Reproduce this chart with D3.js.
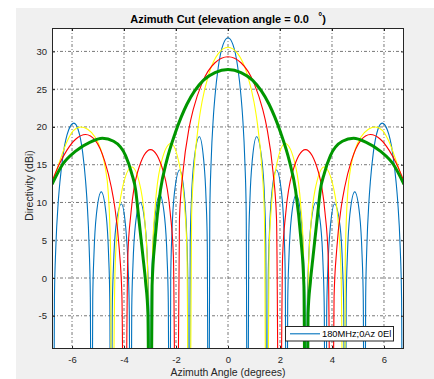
<!DOCTYPE html>
<html><head><meta charset="utf-8">
<script src="https://cdn.jsdelivr.net/npm/d3@7"></script>
<style>
body{margin:0;background:#fff}
svg{display:block}
text{font-family:"Liberation Sans",Arial,Helvetica,sans-serif}
</style>
</head><body>
<svg id="c" width="434" height="379"></svg>
<script>
// ---- data (azimuth deg, directivity dBi); -40 marks a null below the axis ----
const xTicks = [-6, -4, -2, 0, 2, 4, 6];
const yTicks = [-5, 0, 5, 10, 15, 20, 25, 30];
const xDomain = [-6.77, 6.77];
const yDomain = [-9.4, 33.1];
const legendLabel = "180MHz;0Az 0El";

const blue = [
[-6.8,-8],[-6.73,-40],[-6.676,-2.5],[-6.624,4.0],[-6.53,10.05],[-6.463,12.8],[-6.33,16.6],[-6.13,19.6],[-5.93,20.5],[-5.76,19.6],[-5.59,16.6],[-5.477,12.8],[-5.42,10.05],[-5.34,4.0],[-5.296,-2.5],[-5.25,-40],
[-5.203,-2.8],[-5.156,3.1],[-5.0625,8.4],[-4.875,11.4],[-4.6875,8.4],[-4.594,3.1],[-4.547,-2.8],[-4.5,-40],
[-4.453,-4.4],[-4.406,1.5],[-4.3125,6.8],[-4.1,9.8],[-3.9375,6.8],[-3.844,1.5],[-3.797,-4.4],[-3.75,-40],
[-3.703,-4.2],[-3.656,1.7],[-3.5625,7.0],[-3.375,10.0],[-3.1875,7.0],[-3.094,1.7],[-3.047,-4.2],[-3.0,-40],
[-2.953,-3.2],[-2.906,2.7],[-2.8125,8.0],[-2.625,11.0],[-2.4375,8.0],[-2.344,2.7],[-2.297,-3.2],[-2.25,-40],
[-2.203,0.1],[-2.156,6.0],[-2.06,11.3],[-1.86,14.3],[-1.6875,11.3],[-1.594,6.0],[-1.547,0.1],[-1.5,-40],
[-1.453,4.5],[-1.406,10.4],[-1.3,15.7],[-1.1,18.7],[-0.9375,15.7],[-0.844,10.4],[-0.797,4.5],[-0.75,-40],
[-0.7,8.8],[-0.65,15.3],[-0.5625,21.35],[-0.5,24.1],[-0.375,27.9],[-0.19,30.9],[0,31.8],
[0.19,30.9],[0.375,27.9],[0.5,24.1],[0.5625,21.35],[0.65,15.3],[0.7,8.8],[0.75,-40],
[0.797,4.5],[0.844,10.4],[0.9375,15.7],[1.1,18.7],[1.3,15.7],[1.406,10.4],[1.453,4.5],[1.5,-40],
[1.547,0.1],[1.594,6.0],[1.6875,11.3],[1.86,14.3],[2.06,11.3],[2.156,6.0],[2.203,0.1],[2.25,-40],
[2.297,-3.2],[2.344,2.7],[2.4375,8.0],[2.625,11.0],[2.8125,8.0],[2.906,2.7],[2.953,-3.2],[3.0,-40],
[3.047,-4.2],[3.094,1.7],[3.1875,7.0],[3.375,10.0],[3.5625,7.0],[3.656,1.7],[3.703,-4.2],[3.75,-40],
[3.797,-4.4],[3.844,1.5],[3.9375,6.8],[4.1,9.8],[4.3125,6.8],[4.406,1.5],[4.453,-4.4],[4.5,-40],
[4.547,-2.8],[4.594,3.1],[4.6875,8.4],[4.875,11.4],[5.0625,8.4],[5.156,3.1],[5.203,-2.8],[5.25,-40],
[5.296,-2.5],[5.34,4.0],[5.42,10.05],[5.477,12.8],[5.59,16.6],[5.76,19.6],[5.93,20.5],[6.13,19.6],[6.33,16.6],[6.463,12.8],[6.53,10.05],[6.624,4.0],[6.676,-2.5],[6.73,-40],[6.8,-8]
];

const yellow = [
[-6.77,12.4],[-6.47,15.5],[-6.2,18.0],[-5.95,19.5],[-5.67,20.0],[-5.4,19.7],[-5.1,18.6],[-4.9,17.1],[-4.72,14.6],[-4.61,11.5],[-4.55,7.5],[-4.51,2.0],[-4.48,-40],
[-4.35,0.5],[-4.26,6.4],[-4.075,11.7],[-3.7,14.7],[-3.35,11.7],[-3.175,6.4],[-3.0875,0.5],[-2.99,-40],
[-2.9,3.6],[-2.8,9.5],[-2.6,14.8],[-2.2,17.8],[-1.86,14.8],[-1.67,9.5],[-1.58,3.6],[-1.49,-40],
[-1.4,8.35],[-1.3,14.75],[-1.125,20.6],[-1.0,23.3],[-0.75,26.85],[-0.375,29.7],[0,30.55],
[0.375,29.7],[0.75,26.85],[1.0,23.3],[1.125,20.6],[1.3,14.75],[1.4,8.35],[1.49,-40],
[1.58,3.6],[1.67,9.5],[1.86,14.8],[2.2,17.8],[2.6,14.8],[2.8,9.5],[2.9,3.6],[2.99,-40],
[3.0875,0.5],[3.175,6.4],[3.35,11.7],[3.7,14.7],[4.075,11.7],[4.26,6.4],[4.35,0.5],[4.48,-40],
[4.51,2.0],[4.55,7.5],[4.61,11.5],[4.72,14.6],[4.9,17.1],[5.1,18.6],[5.4,19.7],[5.67,20.0],[5.95,19.5],[6.2,18.0],[6.47,15.5],[6.77,12.4]
];

const red = [
[-6.77,12.8],[-6.5,15.0],[-6.2,16.9],[-5.85,18.4],[-5.48,19.0],[-5.1,18.2],[-4.745,15.5],[-4.49,12.05],[-4.36,9.5],[-4.18,3.7],[-4.08,-2.5],[-3.98,-40],
[-3.855,2.8],[-3.73,8.7],[-3.48,14.0],[-2.98,17.0],[-2.48,14.0],[-2.225,8.7],[-2.1,2.8],[-1.98,-40],
[-1.867,7.8],[-1.733,14.0],[-1.5,19.8],[-1.333,22.35],[-1.0,25.8],[-0.5,28.5],[0,29.3],
[0.5,28.5],[1.0,25.8],[1.333,22.35],[1.5,19.8],[1.733,14.0],[1.867,7.8],[1.98,-40],
[2.1,2.8],[2.225,8.7],[2.48,14.0],[2.98,17.0],[3.48,14.0],[3.73,8.7],[3.855,2.8],[3.98,-40],
[4.08,-2.5],[4.18,3.7],[4.36,9.5],[4.49,12.05],[4.745,15.5],[5.1,18.2],[5.48,19.0],[5.85,18.4],[6.2,16.9],[6.5,15.0],[6.77,12.8]
];

const green = [
[-6.77,12.4],[-6.37,15.0],[-5.86,16.8],[-5.3,18.0],[-4.83,18.5],[-4.4,18.1],[-3.94,16.2],[-3.7,13.8],[-3.55,11.6],[-3.46,8.8],[-3.27,2.8],[-3.17,-0.5],[-3.08,-4.7],[-3.0,-40],
[-2.92,-1.0],[-2.8,5.3],[-2.6,11.6],[-2.36,15.5],[-2.03,19.2],[-1.58,23.0],[-0.94,26.2],[-0.5,27.2],[0,27.6],
[0.5,27.2],[0.94,26.2],[1.58,23.0],[2.03,19.2],[2.36,15.5],[2.6,11.6],[2.8,5.3],[2.92,-1.0],
[3.0,-40],[3.08,-4.7],[3.17,-0.5],[3.27,2.8],[3.46,8.8],[3.55,11.6],[3.7,13.8],[3.94,16.2],[4.4,18.1],[4.83,18.5],[5.3,18.0],[5.86,16.8],[6.37,15.0],[6.77,12.4]
];

const series = [
  {values: blue,   color: "#0072BD", width: 1.1},
  {values: yellow, color: "#FFFF00", width: 1.1},
  {values: red,    color: "#FF0000", width: 1.1},
  {values: green,  color: "#009600", width: 3}
];

// ---- layout ----
const L = 52, R = 404, T = 28, B = 349;
const ink = "#262626";
const svg = d3.select("#c");
svg.append("rect").attr("x", 16).attr("y", 8).attr("width", 418).attr("height", 371).attr("fill", "#f0f0f0");

const x = d3.scaleLinear().domain(xDomain).range([L, R]);
const y = d3.scaleLinear().domain(yDomain).range([B, T]);

svg.append("rect").attr("x", L).attr("y", T).attr("width", R - L).attr("height", B - T).attr("fill", "#fff");

// grid
const grid = svg.append("g").attr("stroke", "#3a3a3a").attr("stroke-width", 0.8)
  .attr("stroke-dasharray", "3,2,1,2").attr("opacity", 0.85);
xTicks.forEach(t => grid.append("line").attr("x1", x(t)).attr("x2", x(t)).attr("y1", T).attr("y2", B));
yTicks.forEach(t => grid.append("line").attr("y1", y(t)).attr("y2", y(t)).attr("x1", L).attr("x2", R));

// lines
svg.append("clipPath").attr("id", "clip").append("rect").attr("x", L).attr("y", T).attr("width", R - L).attr("height", B - T);
const line = d3.line().x(d => x(d[0])).y(d => y(d[1])).curve(d3.curveMonotoneX);
const pl = svg.append("g").attr("clip-path", "url(#clip)");
series.forEach(s => pl.append("path").attr("d", line(s.values)).attr("fill", "none")
  .attr("stroke", s.color).attr("stroke-width", s.width).attr("stroke-linejoin", "round"));

// axes
function styleAxis(g) {
  g.select(".domain").remove();
  g.selectAll(".tick line").attr("stroke", ink);
  g.selectAll(".tick text").attr("fill", ink).attr("font-size", "9.5px")
    .attr("font-family", "'Liberation Sans',Arial,sans-serif");
}
svg.append("g").attr("transform", `translate(0,${B})`)
  .call(d3.axisBottom(x).tickValues(xTicks).tickFormat(d => String(d)).tickSizeInner(-3).tickSizeOuter(0).tickPadding(7))
  .call(styleAxis);
svg.append("g").attr("transform", `translate(${L},0)`)
  .call(d3.axisLeft(y).tickValues(yTicks).tickFormat(d => String(d)).tickSizeInner(-3).tickSizeOuter(0).tickPadding(5))
  .call(styleAxis);
svg.append("g").attr("transform", `translate(0,${T})`)
  .call(d3.axisTop(x).tickValues(xTicks).tickFormat("").tickSizeInner(-3).tickSizeOuter(0))
  .call(styleAxis);
svg.append("g").attr("transform", `translate(${R},0)`)
  .call(d3.axisRight(y).tickValues(yTicks).tickFormat("").tickSizeInner(-3).tickSizeOuter(0))
  .call(styleAxis);

svg.append("rect").attr("x", L + 0.5).attr("y", T + 0.5).attr("width", R - L - 1).attr("height", B - T - 1)
  .attr("fill", "none").attr("stroke", ink).attr("stroke-width", 1);

// legend
const lg = svg.append("g");
lg.append("rect").attr("x", 285.5).attr("y", 326.5).attr("width", 108).attr("height", 14.5)
  .attr("fill", "#fff").attr("stroke", ink).attr("stroke-width", 1);
lg.append("line").attr("x1", 290).attr("x2", 320).attr("y1", 333.8).attr("y2", 333.8)
  .attr("stroke", series[0].color).attr("stroke-width", 1.1);
lg.append("text").attr("x", 322).attr("y", 337.2).attr("font-size", "9.3px").attr("fill", "#000").text(legendLabel);

// title and labels
const title = svg.append("text").attr("x", (L + R) / 2).attr("y", 23).attr("text-anchor", "middle")
  .attr("font-size", "11px").attr("font-weight", "bold").attr("fill", "#000");
title.append("tspan").text("Azimuth Cut (elevation angle = 0.0\u00a0\u00a0\u00a0");
title.append("tspan").attr("dy", -3).attr("font-size", "10px").text("°");
title.append("tspan").attr("dy", 3).text(")");

svg.append("text").attr("x", (L + R) / 2).attr("y", 376).attr("text-anchor", "middle")
  .attr("font-size", "10.5px").attr("fill", ink).text("Azimuth Angle (degrees)");
svg.append("text").attr("transform", `translate(33,${(T + B) / 2 - 3}) rotate(-90)`).attr("text-anchor", "middle")
  .attr("font-size", "10.5px").attr("fill", ink).text("Directivity (dBi)");
</script>
</body></html>
